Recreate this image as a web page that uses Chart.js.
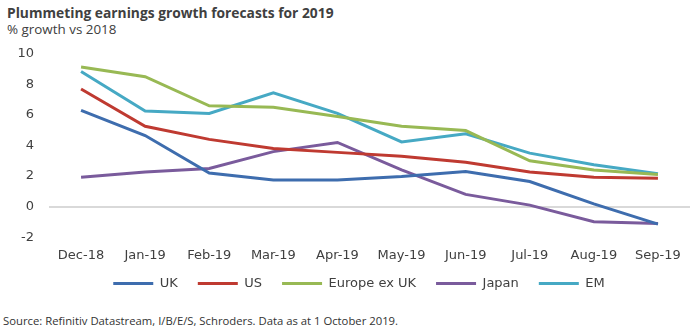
<!DOCTYPE html>
<html>
<head>
<meta charset="utf-8">
<script src="https://cdn.jsdelivr.net/npm/chart.js@4.4.1/dist/chart.umd.min.js"></script>
<style>
  html, body { margin:0; padding:0; background:#fff; }
  body { width:700px; height:333px; position:relative; overflow:hidden; font-family:"Open Sans", sans-serif; }
  #title { position:absolute; left:7px; top:3px; font-size:13.8px; font-weight:bold; color:#404040; white-space:nowrap; }
  #subtitle { position:absolute; left:7px; top:20px; font-size:13.4px; color:#404040; white-space:nowrap; }
  #source { position:absolute; left:3px; top:313px; font-size:11.3px; color:#333; white-space:nowrap; }
  #wrap { position:absolute; left:0; top:31px; width:700px; height:279px; }
</style>
</head>
<body>
<div id="title">Plummeting earnings growth forecasts for 2019</div>
<div id="subtitle">% growth vs 2018</div>
<div id="wrap"><canvas id="c"></canvas></div>
<div id="source">Source: Refinitiv Datastream, I/B/E/S, Schroders. Data as at 1 October 2019.</div>
<script>
const categories = ["Dec-18","Jan-19","Feb-19","Mar-19","Apr-19","May-19","Jun-19","Jul-19","Aug-19","Sep-19"];
const seriesNames = ["UK","US","Europe ex UK","Japan","EM"];
const ukValues     = [6.3, 4.65, 2.2, 1.75, 1.75, 1.97, 2.3, 1.64, 0.18, -1.14];
const usValues     = [7.7, 5.26, 4.4, 3.8, 3.55, 3.3, 2.9, 2.26, 1.93, 1.86];
const europeValues = [9.14, 8.5, 6.6, 6.5, 5.9, 5.26, 4.98, 3.0, 2.4, 2.1];
const japanValues  = [1.93, 2.26, 2.5, 3.6, 4.2, 2.4, 0.8, 0.1, -0.99, -1.1];
const emValues     = [8.84, 6.25, 6.1, 7.45, 6.1, 4.23, 4.76, 3.5, 2.74, 2.15];
const yTicks = [-2, 0, 2, 4, 6, 8, 10];

const colors = ["#3E6DAE", "#BF3A31", "#98B954", "#7A5B9C", "#46A9C4"];
const values = [ukValues, usValues, europeValues, japanValues, emValues];
const tickFont = { family: '"DejaVu Sans", sans-serif', size: 13 };

const datasets = seriesNames.map((n, i) => ({
  label: n,
  data: values[i],
  borderColor: colors[i],
  backgroundColor: colors[i],
  borderWidth: 3,
  pointRadius: 0,
  tension: 0,
  fill: false
}));

const legendShift = {
  id: 'legendShift',
  afterLayout(chart) {
    const l = chart.legend;
    const dy = -10, dx = 14;
    l.top += dy; l.bottom += dy; l.left += dx; l.right += dx;
  }
};

new Chart(document.getElementById('c'), {
  type: 'line',
  data: { labels: categories, datasets },
  plugins: [legendShift],
  options: {
    responsive: true,
    maintainAspectRatio: false,
    animation: false,
    layout: { padding: { top: 0, right: 10, left: 0, bottom: 0 } },
    plugins: {
      title: { display: false },
      tooltip: { enabled: false },
      legend: {
        position: 'bottom',
        labels: {
          usePointStyle: true,
          pointStyle: 'line',
          pointStyleWidth: 40,
          boxWidth: 31,
          padding: 20,
          color: '#404040',
          font: tickFont
        }
      }
    },
    scales: {
      x: {
        offset: true,
        grid: { display: false },
        border: { display: false },
        ticks: { color: '#404040', maxRotation: 0, autoSkip: false, padding: 7, font: { family: tickFont.family, size: 13, lineHeight: 0.6 } }
      },
      y: {
        min: -2, max: 10,
        afterBuildTicks: s => { s.ticks = yTicks.map(v => ({ value: v })); },
        afterFit: s => { s.width = 49; },
        border: { display: false },
        grid: {
          drawTicks: false,
          color: ctx => (ctx.tick && ctx.tick.value === 0) ? '#D9D9D9' : 'rgba(0,0,0,0)',
          lineWidth: 2
        },
        ticks: { color: '#404040', padding: 15, font: tickFont }
      }
    }
  }
});
</script>
</body>
</html>
